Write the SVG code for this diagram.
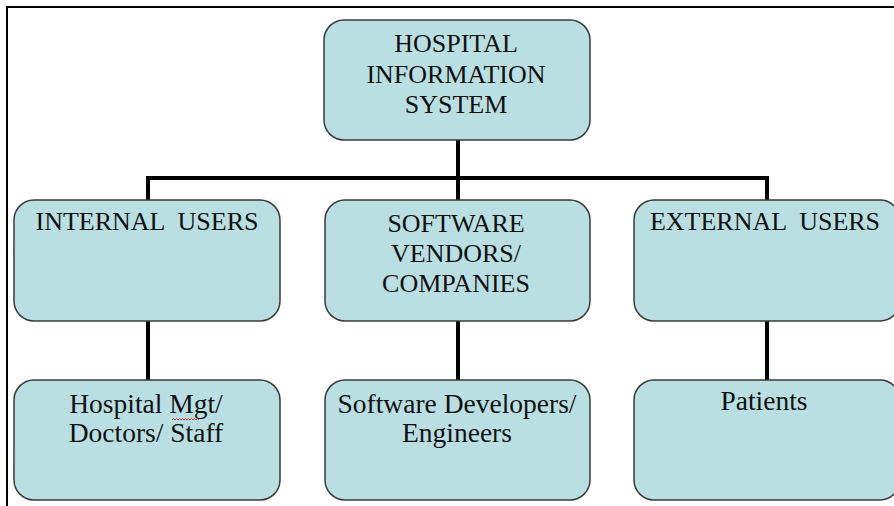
<svg xmlns="http://www.w3.org/2000/svg" width="894" height="506" viewBox="0 0 894 506">
<style>
.box{fill:#badfe3;stroke:#3a3a3a;stroke-width:1.5}
.t{font-family:"Liberation Serif","Times New Roman",serif;font-size:26px;fill:#111;text-anchor:middle}
.b{font-size:27.5px}
.c{stroke:#000;stroke-width:4;fill:none}
.frame{stroke:#000;stroke-width:2;fill:none}
</style>
<rect width="894" height="506" fill="#fff"/>
<path class="frame" d="M7,506 V7 H894"/>
<g id="connectors">
<path class="c" d="M458,140 V178"/>
<path class="c" d="M148,200 V178 H767 V200"/>
<path class="c" d="M458,178 V200"/>
<path class="c" d="M148,321 V380"/>
<path class="c" d="M458,321 V380"/>
<path class="c" d="M767,321 V380"/>
</g>
<g id="his">
<rect class="box" x="324" y="20" width="266" height="120" rx="20"/>
<text class="t" x="456" y="52">HOSPITAL</text>
<text class="t" x="456" y="83">INFORMATION</text>
<text class="t" x="456" y="113">SYSTEM</text>
</g>
<g id="internal">
<rect class="box" x="14" y="200" width="266" height="121" rx="20"/>
<text class="t" x="147" y="230" xml:space="preserve">INTERNAL  USERS</text>
</g>
<g id="vendors">
<rect class="box" x="325" y="200" width="265" height="121" rx="20"/>
<text class="t" x="456" y="232">SOFTWARE</text>
<text class="t" x="456" y="262">VENDORS/</text>
<text class="t" x="456" y="292">COMPANIES</text>
</g>
<g id="external">
<rect class="box" x="634" y="200" width="266" height="121" rx="20"/>
<text class="t" x="765" y="230" xml:space="preserve">EXTERNAL  USERS</text>
</g>
<g id="staff">
<rect class="box" x="14" y="380" width="266" height="120" rx="20"/>
<text class="t b" x="146" y="413">Hospital Mgt/</text>
<text class="t b" x="146" y="442">Doctors/ Staff</text>
<path d="M172,420 l1.5,-1.5 l1.5,1.5 l1.5,-1.5 l1.5,1.5 l1.5,-1.5 l1.5,1.5 l1.5,-1.5 l1.5,1.5 l1.5,-1.5 l1.5,1.5 l1.5,-1.5 l1.5,1.5 l1.5,-1.5 l1.5,1.5 l1.5,-1.5 l1.5,1.5 l1.5,-1.5 l1.5,1.5" fill="none" stroke="#e02020" stroke-width="0.9"/>
</g>
<g id="developers">
<rect class="box" x="325" y="380" width="265" height="120" rx="20"/>
<text class="t b" x="457" y="413">Software Developers/</text>
<text class="t b" x="457" y="442">Engineers</text>
</g>
<g id="patients">
<rect class="box" x="634" y="380" width="266" height="120" rx="20"/>
<text class="t b" x="764" y="410">Patients</text>
</g>
</svg>
